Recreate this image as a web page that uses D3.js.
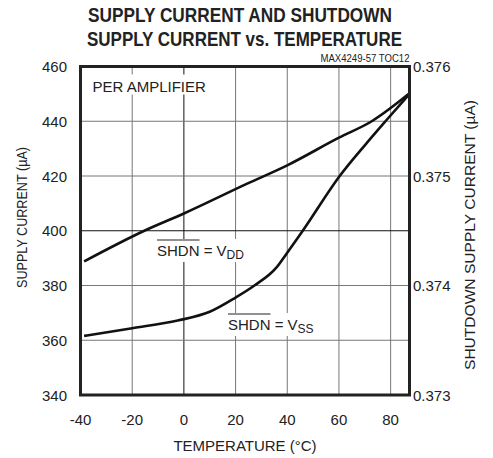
<!DOCTYPE html>
<html>
<head>
<meta charset="utf-8">
<script src="https://cdn.jsdelivr.net/npm/d3@7"></script>
<style>
  body { margin: 0; background: #fff; }
  text { font-family: "Liberation Sans", Arial, sans-serif; fill: #222; }
</style>
</head>
<body>
<div id="chart"></div>
<script>
// temperature (°C) and supply current, SHDN = VDD (left axis, µA)
const tempVdd = [-38.6, -15.3, 0, 24.5, 40, 60, 72.7, 87.3];
const currentVdd = [388.8, 400, 406.3, 417.2, 423.9, 434, 440, 450.2];

// temperature (°C) and shutdown supply current, SHDN = VSS (right axis, µA)
const tempVss = [-38.6, -20, -2.4, 10, 20, 27.3, 35.6, 40, 46, 60.3, 70, 78, 87.3];
const currentVss = [0.37354, 0.37361, 0.37368, 0.37376, 0.37389, 0.37400, 0.374158,
                    0.37430, 0.37450, 0.37500, 0.37528, 0.37550, 0.37575];

const xTicks = [-40, -20, 0, 20, 40, 60, 80];
const yLeftTicks = [340, 360, 380, 400, 420, 440, 460];
const yRightTicks = [0.373, 0.374, 0.375, 0.376];

const width = 493, height = 458;
const margin = {top: 66.5, right: 83.5, bottom: 63, left: 80.5};

const svg = d3.select("#chart").append("svg")
  .attr("width", width)
  .attr("height", height);

const x = d3.scaleLinear().domain([-40, 87.3])
  .range([margin.left, width - margin.right]);
const yL = d3.scaleLinear().domain([340, 460])
  .range([height - margin.bottom, margin.top]);
const yR = d3.scaleLinear().domain([0.373, 0.376])
  .range([height - margin.bottom, margin.top]);

// title
const title = svg.append("g").attr("font-weight", "bold");
title.append("text")
  .attr("x", 240).attr("y", 21.5)
  .attr("text-anchor", "middle")
  .attr("font-size", 20.5)
  .attr("textLength", 304).attr("lengthAdjust", "spacingAndGlyphs")
  .text("SUPPLY CURRENT AND SHUTDOWN");
title.append("text")
  .attr("x", 244.5).attr("y", 45.5)
  .attr("text-anchor", "middle")
  .attr("font-size", 20.5)
  .attr("textLength", 315).attr("lengthAdjust", "spacingAndGlyphs")
  .text("SUPPLY CURRENT vs. TEMPERATURE");

svg.append("text")
  .attr("x", width - margin.right).attr("y", 62)
  .attr("text-anchor", "end")
  .attr("font-size", 10)
  .attr("textLength", 89).attr("lengthAdjust", "spacingAndGlyphs")
  .text("MAX4249-57 TOC12");

// grid
const grid = svg.append("g");
grid.selectAll(".vx")
  .data(xTicks.slice(1))
  .join("line")
    .attr("x1", d => x(d)).attr("x2", d => x(d))
    .attr("y1", margin.top).attr("y2", height - margin.bottom)
    .attr("stroke", d => d === 0 ? "#111" : "#777")
    .attr("stroke-width", 1);
grid.selectAll(".hy")
  .data(yLeftTicks.slice(1, -1))
  .join("line")
    .attr("x1", margin.left).attr("x2", width - margin.right)
    .attr("y1", d => yL(d)).attr("y2", d => yL(d))
    .attr("stroke", d => d === 400 ? "#111" : "#777")
    .attr("stroke-width", 1);

// curves
const lineL = d3.line().curve(d3.curveMonotoneX)
  .x((d, i) => x(tempVdd[i])).y(d => yL(d));
const lineR = d3.line().curve(d3.curveMonotoneX)
  .x((d, i) => x(tempVss[i])).y(d => yR(d));

svg.append("path")
  .attr("d", lineL(currentVdd))
  .attr("fill", "none").attr("stroke", "#111")
  .attr("stroke-width", 2.6).attr("stroke-linejoin", "round");
svg.append("path")
  .attr("d", lineR(currentVss))
  .attr("fill", "none").attr("stroke", "#111")
  .attr("stroke-width", 2.6).attr("stroke-linejoin", "round");

// labels with white backing
function label(xp, yp, main, sub, overline) {
  const g = svg.append("g");
  const t = g.append("text").attr("x", xp).attr("y", yp).attr("font-size", 15);
  t.append("tspan").text(main);
  if (sub) {
    t.append("tspan").attr("font-size", 12).attr("dy", 3).text(sub);
  }
  const bb = t.node().getBBox();
  g.insert("rect", "text")
    .attr("x", bb.x - 2).attr("y", bb.y - 3)
    .attr("width", bb.width + 4).attr("height", bb.height + 3)
    .attr("fill", "#fff");
  if (overline) {
    const ext = t.node().getExtentOfChar(3);
    g.append("line")
      .attr("x1", xp).attr("x2", ext.x + ext.width)
      .attr("y1", yp - 16).attr("y2", yp - 16)
      .attr("stroke", "#222").attr("stroke-width", 1);
  }
}
label(92.5, 91.5, "PER AMPLIFIER", null, false);
label(157, 256, "SHDN = V", "DD", true);
label(228, 330, "SHDN = V", "SS", true);

// frame
svg.append("rect")
  .attr("x", margin.left).attr("y", margin.top)
  .attr("width", width - margin.left - margin.right)
  .attr("height", height - margin.top - margin.bottom)
  .attr("fill", "none").attr("stroke", "#222").attr("stroke-width", 3);

// axes tick labels
svg.append("g").selectAll("text")
  .data(xTicks)
  .join("text")
    .attr("x", d => x(d)).attr("y", 425)
    .attr("text-anchor", "middle").attr("font-size", 15)
    .text(d => d);
svg.append("g").selectAll("text")
  .data(yLeftTicks)
  .join("text")
    .attr("x", 67).attr("y", d => yL(d) + 5.5)
    .attr("text-anchor", "end").attr("font-size", 15)
    .text(d => d);
svg.append("g").selectAll("text")
  .data(yRightTicks)
  .join("text")
    .attr("x", 413).attr("y", d => yR(d) + 5.5)
    .attr("text-anchor", "start").attr("font-size", 15)
    .text(d => d3.format(".3f")(d));

// axis titles
svg.append("text")
  .attr("x", 245).attr("y", 451)
  .attr("text-anchor", "middle").attr("font-size", 15)
  .text("TEMPERATURE (°C)");
svg.append("text")
  .attr("transform", "translate(26.5,217.5) rotate(-90)")
  .attr("text-anchor", "middle").attr("font-size", 15)
  .attr("textLength", 141).attr("lengthAdjust", "spacingAndGlyphs")
  .text("SUPPLY CURRENT (µA)");
svg.append("text")
  .attr("transform", "translate(475,235) rotate(-90)")
  .attr("text-anchor", "middle").attr("font-size", 15)
  .attr("textLength", 270).attr("lengthAdjust", "spacingAndGlyphs")
  .text("SHUTDOWN SUPPLY CURRENT (µA)");
</script>
</body>
</html>
